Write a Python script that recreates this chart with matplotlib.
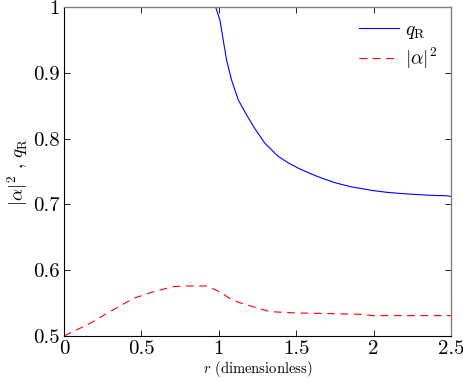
import matplotlib
matplotlib.use("Agg")
import matplotlib.pyplot as plt
from matplotlib.ticker import FuncFormatter

plt.rcParams['font.family'] = 'serif'
plt.rcParams['font.serif'] = ['cmr10', 'DejaVu Serif']
plt.rcParams['mathtext.fontset'] = 'cm'
plt.rcParams['axes.formatter.use_mathtext'] = True

r_q = [0.0, 0.98, 1.008, 1.029, 1.051, 1.083, 1.126, 1.18, 1.234, 1.298, 1.384,
       1.45, 1.514, 1.59, 1.665, 1.75, 1.85, 1.996, 2.1, 2.21, 2.35, 2.48, 2.5]
q_R = [1.0, 1.0, 0.980, 0.950, 0.919, 0.889, 0.859, 0.836, 0.815, 0.793, 0.773,
       0.763, 0.755, 0.747, 0.740, 0.733, 0.727, 0.721, 0.718, 0.716, 0.714, 0.713, 0.712]

r_a = [0.0, 0.168, 0.297, 0.448, 0.575, 0.705, 0.8, 0.92, 1.008, 1.072, 1.13,
       1.2, 1.33, 1.503, 1.718, 1.91, 1.996, 2.5]
alpha2 = [0.5, 0.519, 0.537, 0.557, 0.567, 0.575, 0.576, 0.576, 0.567, 0.557, 0.551,
          0.546, 0.537, 0.535, 0.534, 0.533, 0.531, 0.531]

x_ticks = [0, 0.5, 1, 1.5, 2, 2.5]
y_ticks = [0.5, 0.6, 0.7, 0.8, 0.9, 1.0]

fig = plt.figure(figsize=(4.63, 3.79), dpi=100)
ax = fig.add_axes([0.138, 0.1135, 0.836, 0.868])

ax.plot(r_q, q_R, color='blue', lw=0.8, label=r'$q_{\rm R}$')
ax.plot(r_a, alpha2, color='red', lw=0.8, ls=(0, (7, 5)), label=r'$|\alpha|^2$')

ax.set_xlim(0, 2.5)
ax.set_ylim(0.5, 1.0)
ax.set_xticks(x_ticks)
ax.set_yticks(y_ticks)
fmt = FuncFormatter(lambda v, p: '%g' % v)
ax.xaxis.set_major_formatter(fmt)
ax.yaxis.set_major_formatter(fmt)
ax.tick_params(direction='in', top=True, right=True, labelsize=15, length=4, width=0.6, pad=3)

for s in ['left', 'bottom']:
    ax.spines[s].set_color('black')
    ax.spines[s].set_linewidth(0.8)
for s in ['top', 'right']:
    ax.spines[s].set_color('#808080')
    ax.spines[s].set_linewidth(1.0)

ax.set_xlabel(r'$r$ (dimensionless)', fontsize=10.5, labelpad=1)
ax.set_ylabel(r'$|\alpha|^2$ , $q_{\rm R}$', fontsize=13.5, labelpad=2)

ax.legend(loc='upper right', frameon=False, fontsize=14, handlelength=2.1,
          handletextpad=0.3, borderaxespad=0.3, labelspacing=0.25)

fig.savefig('out.png', dpi=100)
